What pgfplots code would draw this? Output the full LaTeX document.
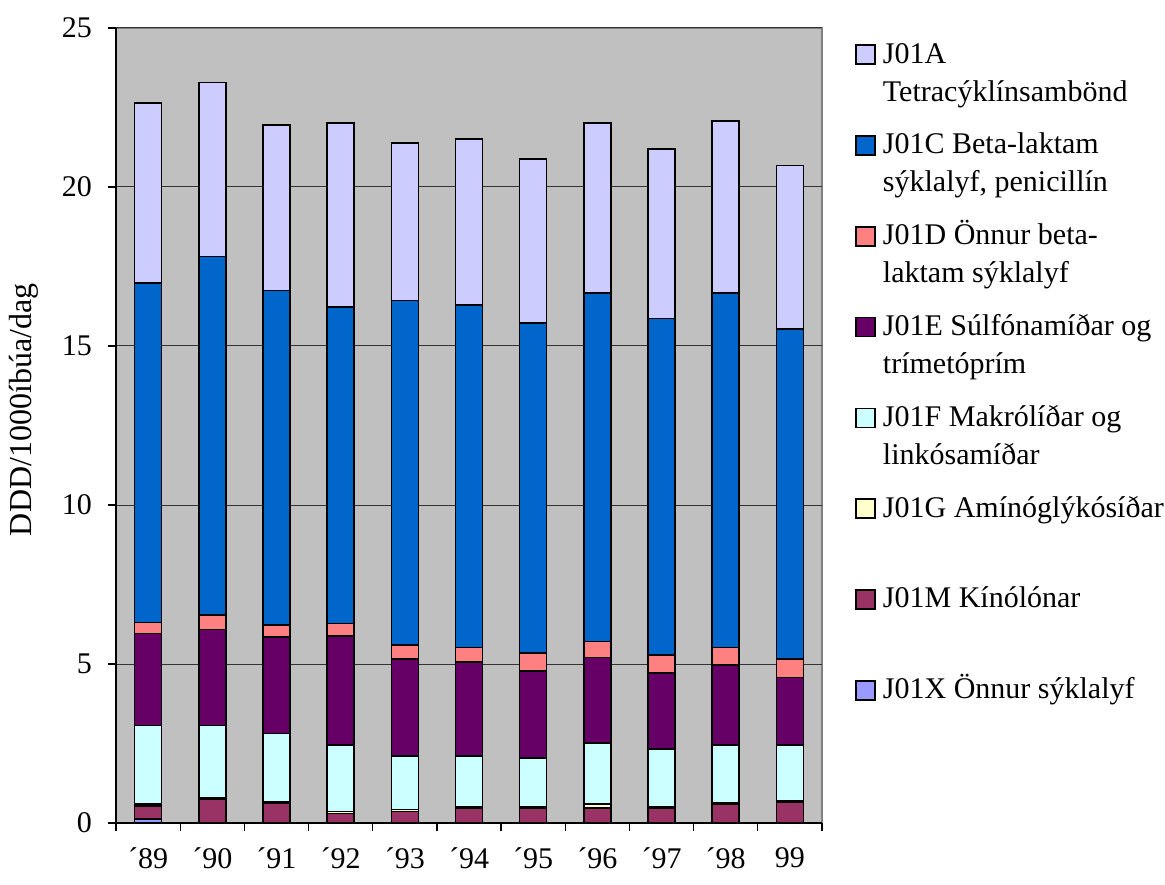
\documentclass[border=0pt]{standalone}
\usepackage{fontspec}
\setmainfont{Liberation Serif}
\usepackage{pgfplots}
\usepackage{pgfplotstable}
\pgfplotsset{compat=1.18}
\definecolor{cA}{HTML}{CCCCFF}
\definecolor{cC}{HTML}{0066CC}
\definecolor{cD}{HTML}{FF8080}
\definecolor{cE}{HTML}{660066}
\definecolor{cF}{HTML}{CCFFFF}
\definecolor{cG}{HTML}{FFFFCC}
\definecolor{cM}{HTML}{993366}
\definecolor{cX}{HTML}{9999FF}
\definecolor{plotbg}{HTML}{C0C0C0}
\pgfplotstableread{
x X M G F E D C A
0 0.12 0.42 0.06 2.46 2.90 0.34 10.69 5.66
1 0.02 0.74 0.04 2.26 3.03 0.45 11.27 5.47
2 0.02 0.60 0.05 2.15 3.02 0.38 10.52 5.21
3 0.02 0.28 0.06 2.09 3.44 0.39 9.95 5.79
4 0.02 0.34 0.07 1.68 3.04 0.44 10.84 4.96
5 0.02 0.45 0.04 1.60 2.96 0.45 10.77 5.22
6 0.02 0.45 0.04 1.54 2.73 0.56 10.38 5.16
7 0.02 0.45 0.12 1.92 2.70 0.50 10.96 5.35
8 0.02 0.45 0.04 1.81 2.39 0.57 10.58 5.33
9 0.02 0.58 0.05 1.80 2.52 0.55 11.15 5.41
10 0.02 0.65 0.04 1.74 2.13 0.58 10.38 5.14
}\datatable
\newcommand\lentry[2]{\begin{tabular}[t]{@{}l@{}}#1\\#2\end{tabular}}
\begin{document}
\begin{tikzpicture}
\begin{axis}[
  at={(58pt,30.5pt)}, anchor=south west,
  scale only axis, width=353pt, height=397.5pt,
  ybar stacked, bar width=13.5pt,
  xmin=-0.5, xmax=10.5, ymin=0, ymax=25,
  axis x line*=bottom, axis y line*=left,
  axis line style={black, line width=0.6pt},
  axis background/.style={fill=plotbg, draw=gray, line width=0.8pt},
  xtick={0,...,10},
  xticklabels={´89,´90,´91,´92,´93,´94,´95,´96,´97,´98,99},
  major x tick style={draw=none},
  minor xtick={-0.5,0.5,...,10.5},
  minor x tick style={black, line width=0.6pt},
  ytick={0,5,...,25},
  y tick style={black, line width=0.6pt},
  tick align=outside, major tick length=4pt, minor tick length=4pt,
  ymajorgrids, major grid style={black!80, line width=0.5pt},
  /pgf/number format/assume math mode=true,
  tick label style={font=\fontsize{15pt}{18pt}\selectfont},
  x tick label style={yshift=-5pt},
  y tick label style={xshift=-4.5pt},
  ylabel={DDD/1000íbúa/dag},
  ylabel style={at={(axis description cs:-0.119,0.352)}, anchor=base west, font=\fontsize{16pt}{19pt}\selectfont},
  every axis plot/.append style={draw=black, line width=0.8pt},
  reverse legend,
  legend image code/.code={\draw[#1] (0pt,-0.5pt) rectangle (9.5pt,9pt);},
  legend style={at={(axis description cs:1.0467,0.9799)}, anchor=north west,
    draw=none, fill=none, inner sep=0pt, row sep=0pt, column sep=3.5pt,
    font=\fontsize{15pt}{19pt}\selectfont,
    nodes={text height=9pt, text depth=36pt, inner sep=0pt},
    cells={anchor=base west}},
]
\addplot[fill=cX] table[x=x,y=X]{\datatable}; \addlegendentry{J01X Önnur sýklalyf}
\addplot[fill=cM] table[x=x,y=M]{\datatable}; \addlegendentry{J01M Kínólónar}
\addplot[fill=cG] table[x=x,y=G]{\datatable}; \addlegendentry{J01G Amínóglýkósíðar}
\addplot[fill=cF] table[x=x,y=F]{\datatable}; \addlegendentry{\lentry{J01F Makrólíðar og}{linkósamíðar}}
\addplot[fill=cE] table[x=x,y=E]{\datatable}; \addlegendentry{\lentry{J01E Súlfónamíðar og}{trímetóprím}}
\addplot[fill=cD] table[x=x,y=D]{\datatable}; \addlegendentry{\lentry{J01D Önnur beta-}{laktam sýklalyf}}
\addplot[fill=cC] table[x=x,y=C]{\datatable}; \addlegendentry{\lentry{J01C Beta-laktam}{sýklalyf, penicillín}}
\addplot[fill=cA] table[x=x,y=A]{\datatable}; \addlegendentry{\lentry{J01A}{Tetracýklínsambönd}}
\end{axis}
\pgfresetboundingbox
\useasboundingbox (0,0) rectangle (582.5pt,442pt);
\end{tikzpicture}
\end{document}
